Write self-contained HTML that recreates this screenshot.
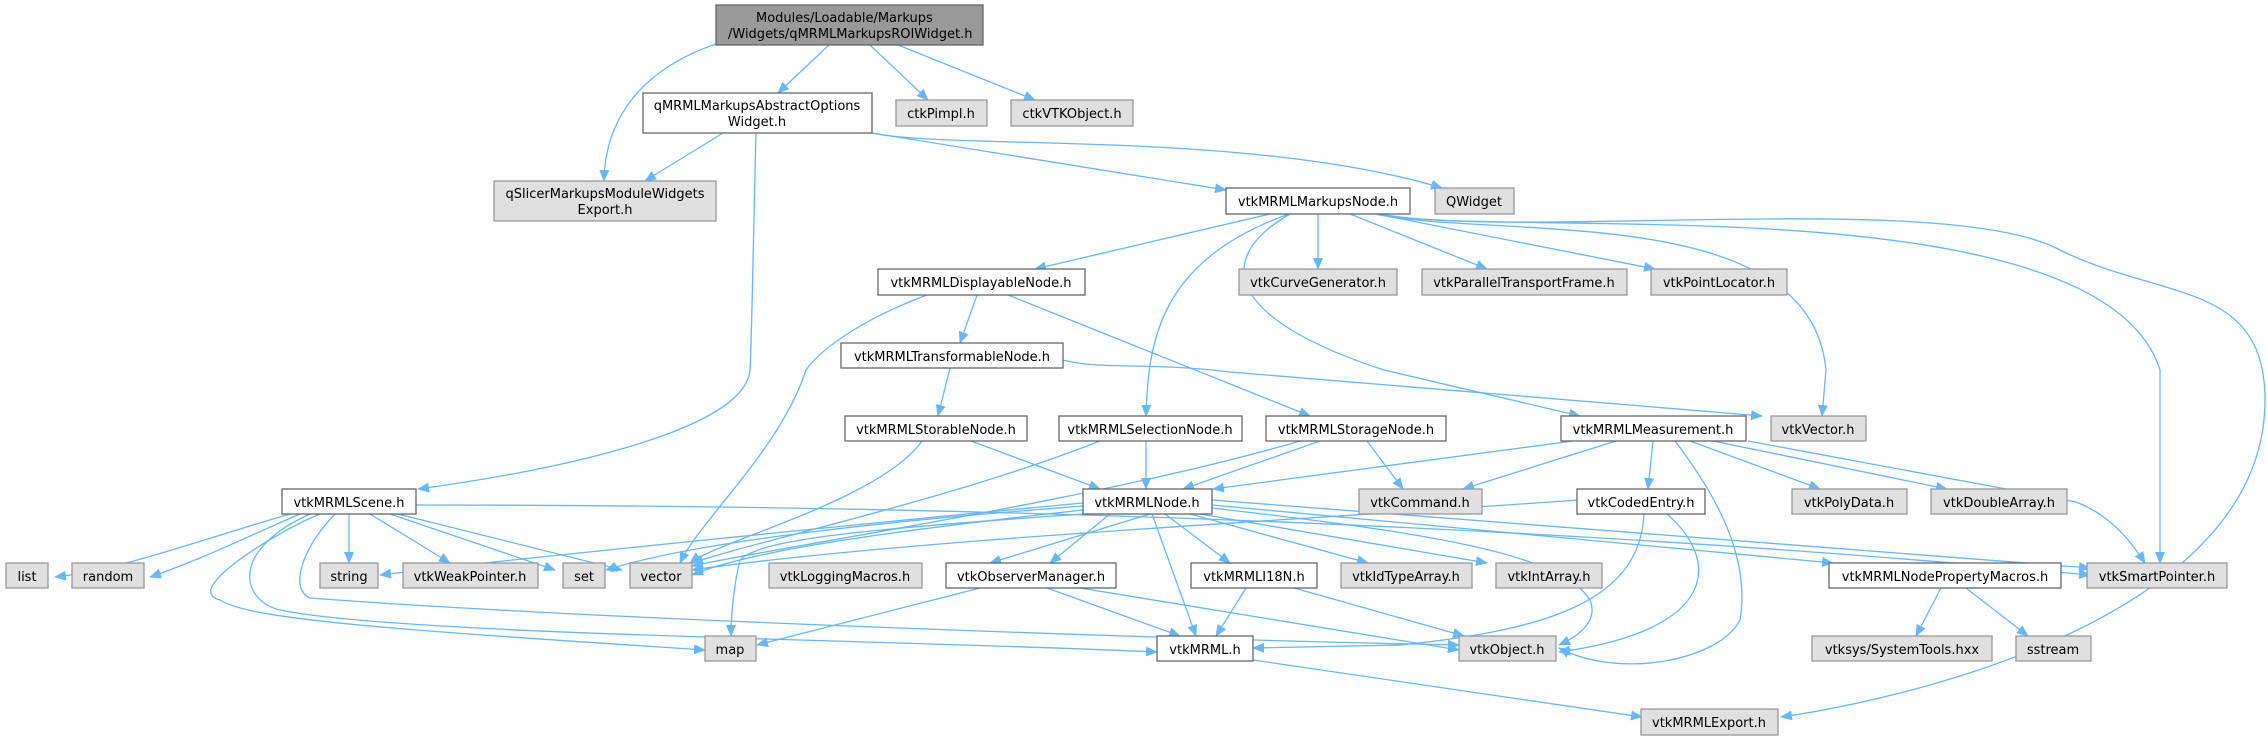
<!DOCTYPE html>
<html><head><meta charset="utf-8"><style>
html,body{margin:0;padding:0;background:#fff;width:2267px;height:740px;overflow:hidden}
svg text{font-family:"DejaVu Sans","Liberation Sans",sans-serif;font-size:13px;fill:#000;text-anchor:middle}
.w{fill:#fff;stroke:#666;stroke-width:1.3}
.g{fill:#e0e0e0;stroke:#999;stroke-width:1.3}
.e{fill:none;stroke:#63b8ff;stroke-width:1.3;marker-end:url(#a)}
</style></head><body>
<svg width="2267" height="740" viewBox="0 0 2267 740" xmlns="http://www.w3.org/2000/svg">
<defs><marker id="a" markerUnits="userSpaceOnUse" markerWidth="12" markerHeight="10" refX="11" refY="5" orient="auto"><path d="M0,0 L12,5 L0,10 z" fill="#63b8ff"/></marker></defs>
<g>
<path class="e" d="M716,44 C640,70 605,120 604,181"/>
<path class="e" d="M829,45 L778,93"/>
<path class="e" d="M870,45 L928,100"/>
<path class="e" d="M898,45 L1035,100"/>
<path class="e" d="M723,133 L645,181"/>
<path class="e" d="M756,133 C753,250 752,330 750,370 C745,430 560,470 418,489"/>
<path class="e" d="M872,133 L1226,190"/>
<path class="e" d="M872,133 C950,150 1250,130 1442,188"/>
<path class="e" d="M1270,214 L1035,269"/>
<path class="e" d="M1318,214 L1318,269"/>
<path class="e" d="M1350,214 L1487,269"/>
<path class="e" d="M1376,214 L1655,269"/>
<path class="e" d="M1289,214 C1160,260 1148,340 1146,416"/>
<path class="e" d="M1290,214 C1210,260 1230,320 1384,370 L1580,416"/>
<path class="e" d="M1375,214 C1500,240 1810,200 1826,370 L1822,416"/>
<path class="e" d="M1378,214 C1500,240 2100,180 2160,370 L2160,563"/>
<path class="e" d="M1380,214 C1520,240 1950,190 2060,250 C2160,300 2265,280 2265,400 C2265,620 1900,700 1781,717"/>
<path class="e" d="M977,295 L960,343"/>
<path class="e" d="M1008,295 L1310,416"/>
<path class="e" d="M927,295 C860,320 820,350 806,370 C780,450 700,520 680,563"/>
<path class="e" d="M1063,360 C1100,370 1150,362 1230,372 L1762,416"/>
<path class="e" d="M950,368 L938,416"/>
<path class="e" d="M971,441 L1100,489"/>
<path class="e" d="M922,441 C880,500 720,540 690,563"/>
<path class="e" d="M1146,441 L1146,489"/>
<path class="e" d="M1100,441 C950,500 760,540 692,563"/>
<path class="e" d="M1320,441 L1183,489"/>
<path class="e" d="M1367,441 L1403,489"/>
<path class="e" d="M1300,441 C1100,500 760,550 692,566"/>
<path class="e" d="M1573,441 L1213,489"/>
<path class="e" d="M1616,441 L1463,489"/>
<path class="e" d="M1653,441 L1648,489"/>
<path class="e" d="M1690,441 L1820,489"/>
<path class="e" d="M1713,441 L1947,489"/>
<path class="e" d="M1748,441 L2076,502 C2110,515 2130,540 2145,563"/>
<path class="e" d="M1675,441 C1720,500 1750,560 1740,620 C1720,660 1620,680 1559,648"/>
<path class="e" d="M1644,514 C1640,600 1550,630 1400,645 L1253,648"/>
<path class="e" d="M1667,514 C1720,560 1720,630 1559,652"/>
<path class="e" d="M1579,500 C1300,520 900,540 692,570"/>
<path class="e" d="M290,514 C200,540 120,570 55,577"/>
<path class="e" d="M300,514 C240,540 200,560 150,577"/>
<path class="e" d="M349,514 L349,563"/>
<path class="e" d="M370,514 L450,563"/>
<path class="e" d="M390,514 L555,570"/>
<path class="e" d="M398,514 L622,570"/>
<path class="e" d="M320,514 C280,530 180,590 220,600 C250,620 400,630 705,650"/>
<path class="e" d="M310,514 C230,550 240,600 280,610 C400,635 900,640 1157,652"/>
<path class="e" d="M335,514 C300,550 290,590 310,598 C600,620 1200,640 1459,645"/>
<path class="e" d="M416,505 C900,505 1500,520 2090,575"/>
<path class="e" d="M1083,503 C900,520 500,560 380,575"/>
<path class="e" d="M1083,506 C900,520 700,540 606,570"/>
<path class="e" d="M1083,510 C900,530 750,550 692,575"/>
<path class="e" d="M1083,514 C850,530 760,540 740,560 C735,580 731,610 731,636"/>
<path class="e" d="M1150,514 L990,563"/>
<path class="e" d="M1110,514 L1050,563"/>
<path class="e" d="M1152,514 L1196,636"/>
<path class="e" d="M1165,514 L1230,563"/>
<path class="e" d="M1190,514 L1368,563"/>
<path class="e" d="M1200,514 L1487,563"/>
<path class="e" d="M1212,508 C1400,530 1560,550 1590,600 C1600,625 1570,640 1559,645"/>
<path class="e" d="M1212,505 L1833,563"/>
<path class="e" d="M1212,500 L2090,568"/>
<path class="e" d="M980,588 L757,645"/>
<path class="e" d="M1047,588 L1180,636"/>
<path class="e" d="M1080,588 L1459,650"/>
<path class="e" d="M1246,588 L1216,636"/>
<path class="e" d="M1294,588 L1464,636"/>
<path class="e" d="M1941,588 L1916,636"/>
<path class="e" d="M1966,588 L2028,636"/>
<path class="e" d="M1253,660 L1642,717"/>
</g>
<rect x="716" y="5" width="267" height="40" fill="#999" stroke="#666" stroke-width="1.3"/>
<text x="756" y="22" style="text-anchor:start">Modules/Loadable/Markups</text>
<text x="728" y="38" style="text-anchor:start">/Widgets/qMRMLMarkupsROIWidget.h</text>
<rect class="w" x="643" y="93" width="229" height="40"/><text x="757" y="110">qMRMLMarkupsAbstractOptions</text><text x="757" y="126">Widget.h</text>
<rect class="g" x="896" y="100" width="91" height="26"/><text x="941" y="118">ctkPimpl.h</text>
<rect class="g" x="1011" y="100" width="122" height="26"/><text x="1072" y="118">ctkVTKObject.h</text>
<rect class="g" x="494" y="181" width="222" height="40"/><text x="605" y="198">qSlicerMarkupsModuleWidgets</text><text x="605" y="214">Export.h</text>
<rect class="w" x="1226" y="188" width="184" height="26"/><text x="1318" y="206">vtkMRMLMarkupsNode.h</text>
<rect class="g" x="1435" y="188" width="79" height="26"/><text x="1474" y="206">QWidget</text>
<rect class="w" x="878" y="269" width="207" height="26"/><text x="981" y="287">vtkMRMLDisplayableNode.h</text>
<rect class="g" x="1239" y="269" width="158" height="26"/><text x="1318" y="287">vtkCurveGenerator.h</text>
<rect class="g" x="1422" y="269" width="205" height="26"/><text x="1524" y="287">vtkParallelTransportFrame.h</text>
<rect class="g" x="1651" y="269" width="136" height="26"/><text x="1719" y="287">vtkPointLocator.h</text>
<rect class="w" x="841" y="343" width="222" height="25"/><text x="952" y="361">vtkMRMLTransformableNode.h</text>
<rect class="w" x="845" y="416" width="182" height="25"/><text x="936" y="434">vtkMRMLStorableNode.h</text>
<rect class="w" x="1059" y="416" width="183" height="25"/><text x="1150" y="434">vtkMRMLSelectionNode.h</text>
<rect class="w" x="1266" y="416" width="180" height="25"/><text x="1356" y="434">vtkMRMLStorageNode.h</text>
<rect class="w" x="1561" y="416" width="185" height="25"/><text x="1653" y="434">vtkMRMLMeasurement.h</text>
<rect class="g" x="1771" y="416" width="95" height="25"/><text x="1818" y="434">vtkVector.h</text>
<rect class="w" x="282" y="489" width="134" height="25"/><text x="349" y="507">vtkMRMLScene.h</text>
<rect class="w" x="1083" y="489" width="129" height="25"/><text x="1147" y="507">vtkMRMLNode.h</text>
<rect class="g" x="1359" y="489" width="123" height="25"/><text x="1420" y="507">vtkCommand.h</text>
<rect class="w" x="1577" y="489" width="128" height="25"/><text x="1641" y="507">vtkCodedEntry.h</text>
<rect class="g" x="1792" y="489" width="115" height="25"/><text x="1849" y="507">vtkPolyData.h</text>
<rect class="g" x="1931" y="489" width="136" height="25"/><text x="1999" y="507">vtkDoubleArray.h</text>
<rect class="g" x="6" y="563" width="42" height="25"/><text x="27" y="581">list</text>
<rect class="g" x="72" y="563" width="72" height="25"/><text x="108" y="581">random</text>
<rect class="g" x="320" y="563" width="58" height="25"/><text x="349" y="581">string</text>
<rect class="g" x="403" y="563" width="135" height="25"/><text x="470" y="581">vtkWeakPointer.h</text>
<rect class="g" x="563" y="563" width="42" height="25"/><text x="584" y="581">set</text>
<rect class="g" x="630" y="563" width="62" height="25"/><text x="661" y="581">vector</text>
<rect class="g" x="769" y="563" width="153" height="25"/><text x="845" y="581">vtkLoggingMacros.h</text>
<rect class="w" x="946" y="563" width="170" height="25"/><text x="1031" y="581">vtkObserverManager.h</text>
<rect class="w" x="1191" y="563" width="126" height="25"/><text x="1254" y="581">vtkMRMLI18N.h</text>
<rect class="g" x="1341" y="563" width="131" height="25"/><text x="1406" y="581">vtkIdTypeArray.h</text>
<rect class="g" x="1496" y="563" width="106" height="25"/><text x="1549" y="581">vtkIntArray.h</text>
<rect class="w" x="1829" y="563" width="232" height="25"/><text x="1945" y="581">vtkMRMLNodePropertyMacros.h</text>
<rect class="g" x="2087" y="563" width="140" height="25"/><text x="2157" y="581">vtkSmartPointer.h</text>
<rect class="g" x="705" y="636" width="51" height="25"/><text x="730" y="654">map</text>
<rect class="w" x="1157" y="636" width="96" height="25"/><text x="1205" y="654">vtkMRML.h</text>
<rect class="g" x="1459" y="636" width="97" height="25"/><text x="1507" y="654">vtkObject.h</text>
<rect class="g" x="1812" y="636" width="180" height="25"/><text x="1902" y="654">vtksys/SystemTools.hxx</text>
<rect class="g" x="2016" y="636" width="75" height="25"/><text x="2053" y="654">sstream</text>
<rect class="g" x="1641" y="709" width="137" height="26"/><text x="1709" y="727">vtkMRMLExport.h</text>
</svg>
</body></html>
